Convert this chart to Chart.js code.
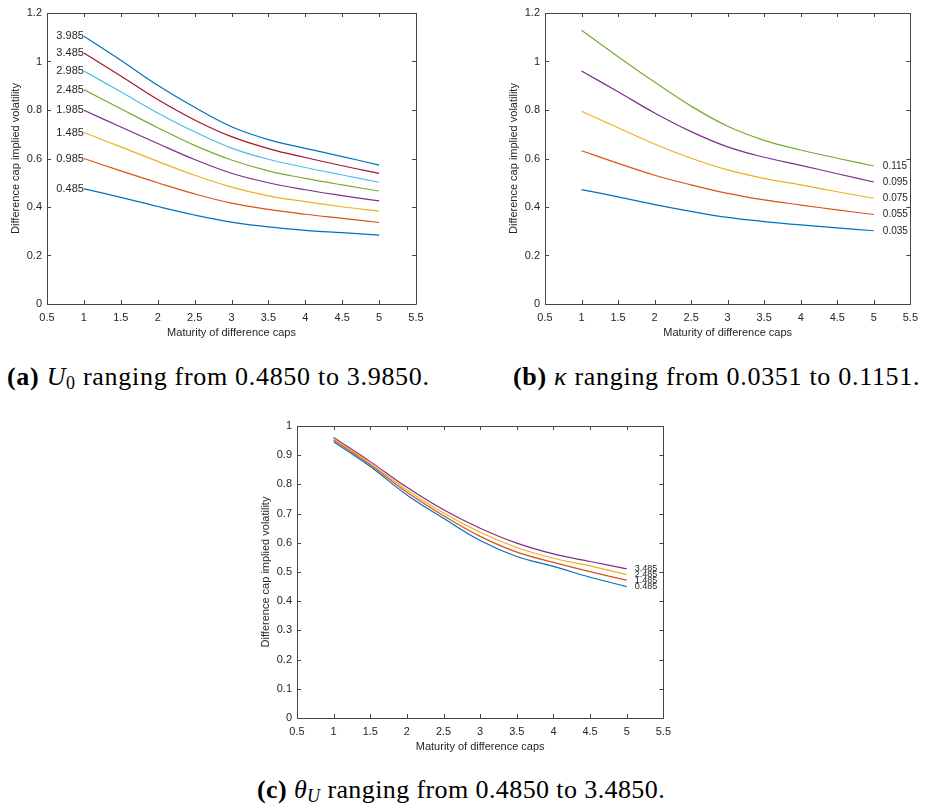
<!DOCTYPE html>
<html>
<head>
<meta charset="utf-8">
<script src="https://cdn.jsdelivr.net/npm/chart.js@4.4.0/dist/chart.umd.min.js"></script>
<style>
  html, body { margin: 0; padding: 0; background: #fff; }
  body { width: 925px; height: 811px; position: relative; overflow: hidden; }
  .panel { position: absolute; }
  .caption { position: absolute; white-space: nowrap; font-family: "Liberation Serif", serif; font-size: 26px; letter-spacing: 0.7px; line-height: 30px; color: #000; }
  .caption .m { font-style: italic; }
  .caption sub { font-size: 18px; vertical-align: -4px; line-height: 0; }
</style>
</head>
<body>
<div class="panel" style="left:0;top:0"><canvas id="chartA" width="460" height="345"></canvas></div>
<div class="panel" style="left:460px;top:0"><canvas id="chartB" width="465" height="345"></canvas></div>
<div class="panel" style="left:250px;top:413px"><canvas id="chartC" width="428" height="346"></canvas></div>

<div class="caption" style="left:7px;top:362px"><b>(a)</b> <span class="m">U</span><sub>0</sub> ranging from 0.4850 to 3.9850.</div>
<div class="caption" style="left:513px;top:362px"><b>(b)</b> <span class="m">&kappa;</span> ranging from 0.0351 to 0.1151.</div>
<div class="caption" style="left:461px;top:775px;letter-spacing:0.4px;transform:translateX(-50%)"><b>(c)</b> <span class="m">&theta;<sub>U</sub></span> ranging from 0.4850 to 3.4850.</div>

<script>
// --- Data ---
const maturities = [1, 1.5, 2, 2.5, 3, 3.5, 4, 4.5, 5];
const xTicks = [0.5, 1, 1.5, 2, 2.5, 3, 3.5, 4, 4.5, 5, 5.5];
const yTicksAB = [0, 0.2, 0.4, 0.6, 0.8, 1, 1.2];
const yTicksC = [0, 0.1, 0.2, 0.3, 0.4, 0.5, 0.6, 0.7, 0.8, 0.9, 1];

// (a) U0 levels
const u0Labels = ['0.485', '0.985', '1.485', '1.985', '2.485', '2.985', '3.485', '3.985'];
const volU0_0485 = [0.475, 0.440, 0.402, 0.367, 0.338, 0.318, 0.304, 0.294, 0.284];
const volU0_0985 = [0.600, 0.549, 0.500, 0.454, 0.416, 0.390, 0.370, 0.353, 0.336];
const volU0_1485 = [0.707, 0.648, 0.588, 0.531, 0.482, 0.446, 0.422, 0.401, 0.383];
const volU0_1985 = [0.799, 0.730, 0.662, 0.596, 0.539, 0.500, 0.471, 0.447, 0.425];
const volU0_2485 = [0.884, 0.805, 0.727, 0.654, 0.594, 0.549, 0.518, 0.491, 0.466];
const volU0_2985 = [0.961, 0.875, 0.788, 0.710, 0.643, 0.597, 0.563, 0.532, 0.502];
const volU0_3485 = [1.035, 0.940, 0.843, 0.759, 0.690, 0.641, 0.604, 0.570, 0.539];
const volU0_3985 = [1.104, 1.005, 0.902, 0.811, 0.731, 0.678, 0.642, 0.608, 0.573];

// (b) kappa levels
const kappaLabels = ['0.035', '0.055', '0.075', '0.095', '0.115'];
const volK_035 = [0.472, 0.442, 0.410, 0.382, 0.357, 0.340, 0.326, 0.314, 0.302];
const volK_055 = [0.632, 0.580, 0.531, 0.491, 0.456, 0.429, 0.408, 0.388, 0.369];
const volK_075 = [0.795, 0.727, 0.660, 0.601, 0.553, 0.518, 0.491, 0.463, 0.436];
const volK_095 = [0.961, 0.875, 0.788, 0.711, 0.648, 0.605, 0.572, 0.537, 0.503];
const volK_115 = [1.129, 1.020, 0.915, 0.816, 0.733, 0.675, 0.635, 0.601, 0.569];

// (c) theta_U levels
const thetaLabels = ['0.485', '1.485', '2.485', '3.485'];
const volT_0485 = [0.946, 0.861, 0.764, 0.684, 0.608, 0.553, 0.519, 0.482, 0.450];
const volT_1485 = [0.952, 0.867, 0.773, 0.693, 0.622, 0.568, 0.533, 0.501, 0.472];
const volT_2485 = [0.957, 0.872, 0.781, 0.702, 0.636, 0.584, 0.547, 0.521, 0.491];
const volT_3485 = [0.961, 0.878, 0.790, 0.713, 0.650, 0.599, 0.562, 0.536, 0.511];

// MATLAB default line colours
const matlabColors = ['#0072BD', '#D95319', '#EDB120', '#7E2F8E', '#77AC30', '#4DBEEE', '#A2142F', '#0072BD'];

const axisColor = '#444444';
const textColor = '#262626';
const fontFamily = '"Liberation Sans", Arial, sans-serif';

// --- Plugins ---

// MATLAB style box with inward ticks on all four sides
const boxPlugin = {
    id: 'matlabBox',
    afterDraw(chart) {
        const { ctx, chartArea: a, scales } = chart;
        const len = 4;
        ctx.save();
        ctx.strokeStyle = axisColor;
        ctx.lineWidth = 1;
        ctx.beginPath();
        ctx.rect(Math.round(a.left) + 0.5, Math.round(a.top) + 0.5,
                 Math.round(a.right - a.left), Math.round(a.bottom - a.top));
        scales.x.ticks.forEach(t => {
            const px = Math.round(scales.x.getPixelForValue(t.value)) + 0.5;
            ctx.moveTo(px, a.bottom); ctx.lineTo(px, a.bottom - len);
            ctx.moveTo(px, a.top); ctx.lineTo(px, a.top + len);
        });
        scales.y.ticks.forEach(t => {
            const py = Math.round(scales.y.getPixelForValue(t.value)) + 0.5;
            ctx.moveTo(a.left, py); ctx.lineTo(a.left + len, py);
            ctx.moveTo(a.right, py); ctx.lineTo(a.right - len, py);
        });
        ctx.stroke();
        ctx.restore();
    }
};

// text labels at the start or end of each curve
const endLabelPlugin = {
    id: 'endLabels',
    afterDatasetsDraw(chart, args, opts) {
        if (!opts.texts) return;
        const ctx = chart.ctx;
        ctx.save();
        ctx.font = opts.size + 'px ' + fontFamily;
        ctx.fillStyle = textColor;
        ctx.textBaseline = 'middle';
        ctx.textAlign = opts.side === 'left' ? 'right' : 'left';
        chart.data.datasets.forEach((ds, i) => {
            const pts = chart.getDatasetMeta(i).data;
            const p = opts.side === 'left' ? pts[0] : pts[pts.length - 1];
            const dx = opts.side === 'left' ? opts.offset * -1 : opts.offset;
            ctx.fillText(opts.texts[i], p.x + dx, p.y);
        });
        ctx.restore();
    }
};

const fmt = v => String(Number(v.toFixed(2)));

function makeChart(id, series, labels, yTicks, yMax, pad, labelOpts) {
    const ctx = document.getElementById(id).getContext('2d');
    return new Chart(ctx, {
        type: 'line',
        data: {
            datasets: series.map((vals, i) => ({
                label: labels[i],
                data: maturities.map((m, j) => ({ x: m, y: vals[j] })),
                borderColor: matlabColors[i],
                borderWidth: 1.2,
                pointRadius: 0,
                fill: false,
                tension: 0.4
            }))
        },
        options: {
            responsive: false,
            animation: false,
            devicePixelRatio: 1,
            layout: { padding: pad },
            plugins: {
                legend: { display: false },
                tooltip: { enabled: false },
                endLabels: labelOpts
            },
            scales: {
                x: {
                    type: 'linear',
                    min: 0.5, max: 5.5,
                    afterBuildTicks: s => { s.ticks = xTicks.map(v => ({ value: v })); },
                    afterFit: s => { s.height = 41; },
                    grid: { display: false, drawTicks: false },
                    border: { display: false },
                    ticks: { color: textColor, font: { family: fontFamily, size: 11 }, padding: 7, maxRotation: 0, autoSkip: false, callback: fmt },
                    title: { display: true, text: 'Maturity of difference caps', color: textColor,
                             font: { family: fontFamily, size: 11 }, padding: { top: 0, bottom: 5 } }
                },
                y: {
                    type: 'linear',
                    min: 0, max: yMax,
                    afterBuildTicks: s => { s.ticks = yTicks.map(v => ({ value: v })); },
                    afterFit: s => { s.width = 47; },
                    grid: { display: false, drawTicks: false },
                    border: { display: false },
                    ticks: { color: textColor, font: { family: fontFamily, size: 11 }, padding: 5, autoSkip: false, callback: fmt },
                    title: { display: true, text: 'Difference cap implied volatility', color: textColor,
                             font: { family: fontFamily, size: 11 }, padding: { top: 9, bottom: 0 } }
                }
            }
        },
        plugins: [boxPlugin, endLabelPlugin]
    });
}

makeChart('chartA',
    [volU0_0485, volU0_0985, volU0_1485, volU0_1985, volU0_2485, volU0_2985, volU0_3485, volU0_3985],
    u0Labels, yTicksAB, 1.2,
    { top: 13, right: 44, bottom: 0, left: 0 },
    { texts: u0Labels, side: 'left', size: 11, offset: 0 });

makeChart('chartB',
    [volK_035, volK_055, volK_075, volK_095, volK_115],
    kappaLabels, yTicksAB, 1.2,
    { top: 13, right: 11, bottom: 0, left: 38 },
    { texts: kappaLabels, side: 'right', size: 10, offset: 9 });

makeChart('chartC',
    [volT_0485, volT_1485, volT_2485, volT_3485],
    thetaLabels, yTicksC, 1,
    { top: 13, right: 13, bottom: 0, left: 0 },
    { texts: thetaLabels, side: 'right', size: 9, offset: 8 });
</script>
</body>
</html>
